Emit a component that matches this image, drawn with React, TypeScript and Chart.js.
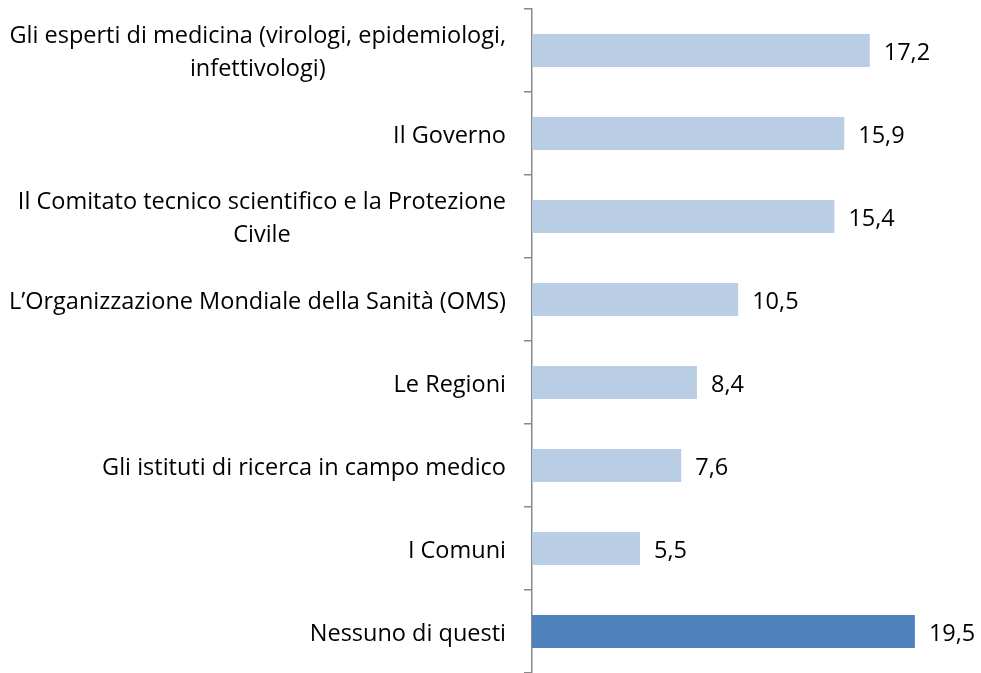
import React, { useEffect, useRef } from 'react';
import { Chart, registerables } from 'chart.js';
Chart.register(...registerables);

const categories: string[][] = [
  ['Gli esperti di medicina (virologi, epidemiologi,', 'infettivologi)'],
  ['Il Governo'],
  ['Il Comitato tecnico scientifico e la Protezione', 'Civile'],
  ['L’Organizzazione Mondiale della Sanità (OMS)'],
  ['Le Regioni'],
  ['Gli istituti di ricerca in campo medico'],
  ['I Comuni'],
  ['Nessuno di questi'],
];
const values = [17.2, 15.9, 15.4, 10.5, 8.4, 7.6, 5.5, 19.5];
const LIGHT = '#B9CDE5';
const DARK = '#4F81BD';
const barColors = [LIGHT, LIGHT, LIGHT, LIGHT, LIGHT, LIGHT, LIGHT, DARK];

const FONT = '23.5px "Open Sans"';
const LINE_H = 32.5;

const labelPlugin = {
  id: 'customLabels',
  afterDraw(chart: any) {
    const ctx = chart.ctx as CanvasRenderingContext2D;
    const ys = chart.scales.y;
    ctx.save();
    ctx.font = FONT;
    ctx.fillStyle = '#000';
    ctx.textBaseline = 'alphabetic';
    ctx.textAlign = 'center';
    const right = ys.right - 8 - 18;
    categories.forEach((lines, i) => {
      const cy = ys.getPixelForTick(i);
      const w = Math.max(...lines.map((l) => ctx.measureText(l).width));
      const cx = right - w / 2;
      lines.forEach((l, j) => ctx.fillText(l, cx, cy + 9 + (j - (lines.length - 1) / 2) * LINE_H));
    });
    const meta = chart.getDatasetMeta(0);
    ctx.textAlign = 'left';
    meta.data.forEach((bar: any, i: number) => {
      ctx.fillText(values[i].toFixed(1).replace('.', ','), bar.x + 14, bar.y + 9);
    });
    ctx.restore();
  },
};

export default function App() {
  const ref = useRef<HTMLCanvasElement>(null);
  useEffect(() => {
    if (!ref.current) return;
    const chart = new Chart(ref.current, {
      type: 'bar',
      data: {
        labels: categories,
        datasets: [
          {
            data: values,
            backgroundColor: barColors,
            borderWidth: 0,
            categoryPercentage: 1,
            barPercentage: 0.4,
          },
        ],
      },
      options: {
        indexAxis: 'y',
        animation: false,
        responsive: true,
        maintainAspectRatio: false,
        layout: { padding: { top: 9, right: 17, bottom: 0, left: 0 } },
        plugins: { legend: { display: false }, tooltip: { enabled: false } },
        scales: {
          x: { display: false, min: 0, max: 22 },
          y: {
            ticks: { display: false },
            grid: { drawOnChartArea: false, drawTicks: true, tickLength: 8, color: '#898989', lineWidth: 1.5, offset: true },
            border: { display: true, color: '#898989', width: 1.5 },
            afterFit: (s: any) => {
              s.width = 532;
            },
          },
        },
      },
      plugins: [labelPlugin],
    });
    return () => chart.destroy();
  }, []);
  return (
    <div style={{ position: 'fixed', left: 0, top: 0, width: 981, height: 673, background: '#fff' }}>
      <canvas ref={ref} />
    </div>
  );
}
